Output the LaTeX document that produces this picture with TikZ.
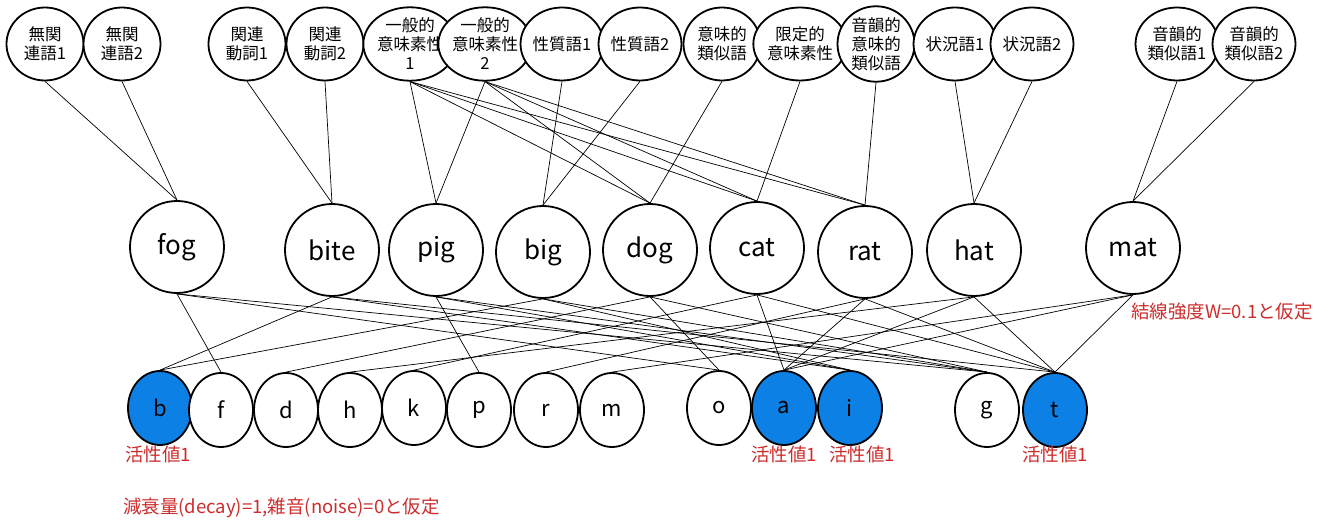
\documentclass[tikz,border=0pt]{standalone}
\usepackage{fontspec}
\setmainfont{Noto Sans CJK JP}
\usetikzlibrary{shapes.geometric}
\definecolor{actblue}{RGB}{12,128,228}
\definecolor{notered}{RGB}{205,45,45}

\begin{document}
\begin{tikzpicture}[x=1pt,y=-1pt,
  feature/.style={ellipse, draw, line width=1.8pt, fill=white, minimum width=77pt, minimum height=73pt,
    inner sep=0pt, align=center, font=\fontsize{16.5}{19}\selectfont},
  word/.style={ellipse, draw, line width=1.8pt, fill=white, minimum width=94pt, minimum height=92pt,
    inner sep=0pt, font=\fontsize{26}{26}\selectfont},
  phon/.style={ellipse, draw, line width=1.8pt, fill=white, minimum width=64pt, minimum height=74pt,
    inner sep=0pt, font=\fontsize{22}{22}\selectfont},
  active/.style={phon, fill=actblue},
  link/.style={line width=0.7pt},
  note/.style={text=notered, font=\fontsize{18.5}{18.5}\selectfont, inner sep=0pt}]

\fill[white] (0,0) rectangle (1328,524);
\useasboundingbox (0,0) rectangle (1328,524);

% feature units
\node[feature] (n1)  at (45,44)   {無関\\連語1};
\node[feature] (n2)  at (122,44)  {無関\\連語2};
\node[feature] (v1)  at (247,44)  {関連\\動詞1};
\node[feature] (v2)  at (325,44)  {関連\\動詞2};
\node[feature] (g1)  at (410,44)  {一般的\\意味素性\\1};
\node[feature] (g2)  at (485,44)  {一般的\\意味素性\\2};
\node[feature] (q1)  at (562,44)  {性質語1};
\node[feature] (q2)  at (640,44)  {性質語2};
\node[feature] (sy)  at (722,44)  {意味的\\類似語};
\node[feature] (lim) at (800,44)  {限定的\\意味素性};
\node[feature] (ps)  at (876,44)  {音韻的\\意味的\\類似語};
\node[feature] (c1)  at (955,44)  {状況語1};
\node[feature] (c2)  at (1032,44) {状況語2};
\node[feature] (r1)  at (1177,44) {音韻的\\類似語1};
\node[feature] (r2)  at (1254,44) {音韻的\\類似語2};

% word units
\node[word] (fog)  at (177,247)  {fog};
\node[word] (bite) at (332,250)  {bite};
\node[word] (pig)  at (436,250)  {pig};
\node[word] (big)  at (543,252)  {big};
\node[word] (dog)  at (650,250)  {dog};
\node[word] (cat)  at (757,248)  {cat};
\node[word] (rat)  at (865,252)  {rat};
\node[word] (hat)  at (974,250)  {hat};
\node[word] (mat)  at (1133,248) {mat};

% letter units
\node[active] (b) at (160,408)  {b};
\node[phon]   (f) at (221,410)  {f};
\node[phon]   (d) at (286,410)  {d};
\node[phon]   (h) at (350,410)  {h};
\node[phon]   (k) at (414,408)  {k};
\node[phon]   (p) at (479,410)  {p};
\node[phon]   (r) at (546,410)  {r};
\node[phon]   (m) at (612,410)  {m};
\node[phon]   (o) at (719,408)  {o};
\node[active] (a) at (784,408)  {a};
\node[active] (i) at (850,408)  {i};
\node[phon]   (g) at (987,410)  {g};
\node[active] (t) at (1055,410) {t};

% feature -> word links
\draw[link] (n1.south) -- (fog.north);
\draw[link] (n2.south) -- (fog.north);
\draw[link] (v1.south) -- (bite.north);
\draw[link] (v2.south) -- (bite.north);
\foreach \w in {pig,dog,cat,rat} {
  \draw[link] (g1.south) -- (\w.north);
  \draw[link] (g2.south) -- (\w.north);
}
\draw[link] (q1.south) -- (big.north);
\draw[link] (q2.south) -- (big.north);
\draw[link] (sy.south) -- (dog.north);
\draw[link] (lim.south) -- (cat.north);
\draw[link] (ps.south) -- (rat.north);
\draw[link] (c1.south) -- (hat.north);
\draw[link] (c2.south) -- (hat.north);
\draw[link] (r1.south) -- (mat.north);
\draw[link] (r2.south) -- (mat.north);

% word -> letter links
\foreach \w/\x/\y/\z in {fog/f/o/g, bite/b/i/t, pig/p/i/g, big/b/i/g, dog/d/o/g,
                         cat/k/a/t, rat/r/a/t, hat/h/a/t, mat/m/a/t} {
  \draw[link] (\w.south) -- (\x.north);
  \draw[link] (\w.south) -- (\y.north);
  \draw[link] (\w.south) -- (\z.north);
}

% notes
\node[note] (wb) at (158,454) {活性値1};
\node[note] (wa) at (784,454) {活性値1};
\node[note] (wi) at (862,454) {活性値1};
\node[note] (wt) at (1055,454) {活性値1};
\node[note, anchor=west] (wnote) at (1131,312) {結線強度W=0.1と仮定};
\node[note, anchor=west] (dnote) at (123,508) {減衰量(decay)=1,雑音(noise)=0と仮定};
\end{tikzpicture}
\end{document}
